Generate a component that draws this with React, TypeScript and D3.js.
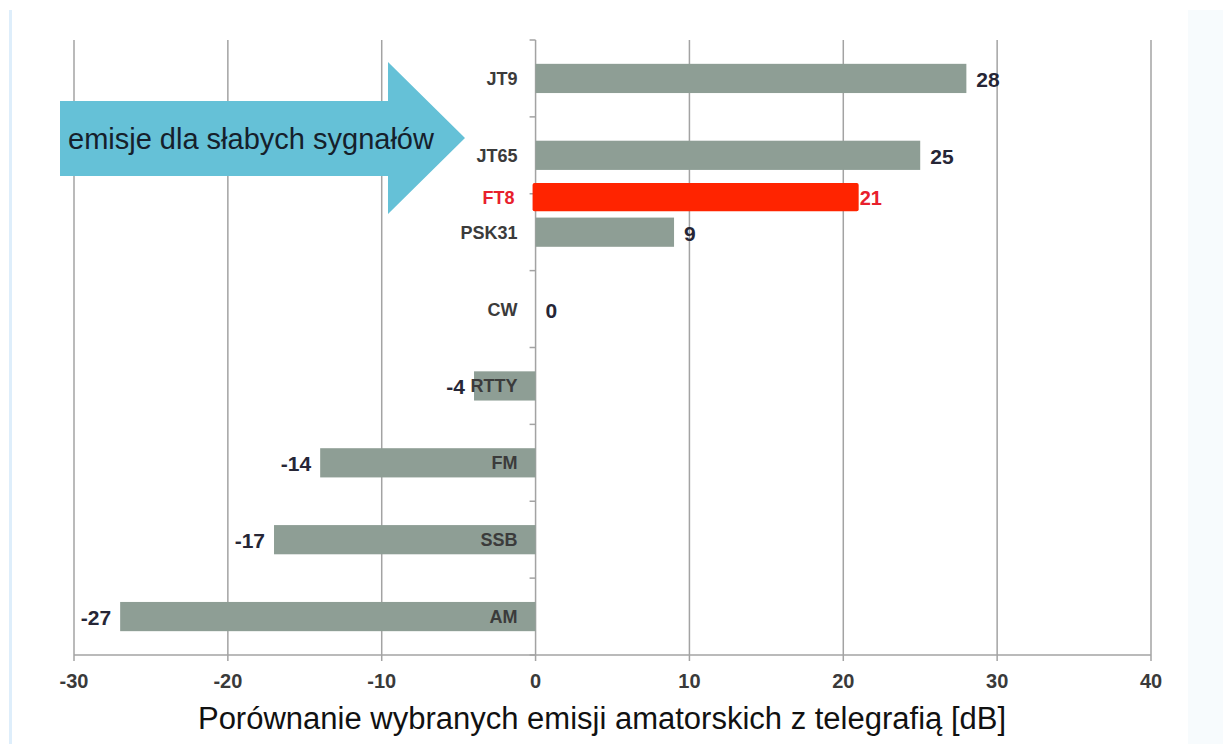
import { useEffect, useRef } from 'react';
import * as d3 from 'd3';

// emisje (od góry) i ich przewaga nad CW w dB
const categories: string[] = ['JT9', 'JT65', 'PSK31', 'CW', 'RTTY', 'FM', 'SSB', 'AM'];
const values: number[] = [28, 25, 9, 0, -4, -14, -17, -27];
// wyróżniona emisja, wstawiona między JT65 i PSK31
const highlightName = 'FT8';
const highlightValue = 21;
const highlightAfter = 'JT65';
const xTicks: number[] = [-30, -20, -10, 0, 10, 20, 30, 40];
const arrowText = 'emisje dla słabych sygnałów';
const axisTitle = 'Porównanie wybranych emisji amatorskich z telegrafią [dB]';

const W = 1223;
const H = 744;

function App() {
	const ref = useRef<SVGSVGElement>(null);

	useEffect(() => {
		document.body.style.margin = '0';
		const svg = d3.select(ref.current);
		svg.selectAll('*').remove();

		const top = 40;
		const bottom = 655;
		const x = d3.scaleLinear().domain([-30, 40]).range([74, 1151]);
		const y = d3
			.scaleBand<string>()
			.domain(categories)
			.range([top, bottom])
			.paddingInner(0.62)
			.paddingOuter(0.31);
		const step = y.step();
		const bw = y.bandwidth();
		const grid = '#a3a3a3';
		const font = 'Liberation Sans, Arial, sans-serif';

		// tło slajdu
		svg.append('rect').attr('width', W).attr('height', H).attr('fill', '#ffffff');
		svg.append('rect').attr('x', 9).attr('y', 10).attr('width', 3).attr('height', H - 10).attr('fill', '#deeefb');
		svg.append('rect').attr('x', 1188).attr('y', 10).attr('width', W - 1188).attr('height', H - 10).attr('fill', '#f7fbfd');

		// linie siatki
		svg.append('g')
			.selectAll('line')
			.data(xTicks)
			.enter()
			.append('line')
			.attr('x1', (d) => x(d))
			.attr('x2', (d) => x(d))
			.attr('y1', top)
			.attr('y2', bottom + 6)
			.attr('stroke', grid)
			.attr('stroke-width', 1.5);

		svg.append('line')
			.attr('x1', x(-30))
			.attr('x2', x(40))
			.attr('y1', bottom)
			.attr('y2', bottom)
			.attr('stroke', grid)
			.attr('stroke-width', 1.5);

		// znaczniki kategorii na osi zero
		const bounds = d3.range(categories.length + 1).map((i) => top + i * step);
		svg.append('g')
			.selectAll('line')
			.data(bounds)
			.enter()
			.append('line')
			.attr('x1', x(0) - 6)
			.attr('x2', x(0))
			.attr('y1', (d) => d)
			.attr('y2', (d) => d)
			.attr('stroke', grid)
			.attr('stroke-width', 1.5);

		// strzałka
		const arrow = d3.path();
		arrow.moveTo(60, 101);
		arrow.lineTo(388, 101);
		arrow.lineTo(388, 62);
		arrow.lineTo(465, 138);
		arrow.lineTo(388, 214);
		arrow.lineTo(388, 176);
		arrow.lineTo(60, 176);
		arrow.closePath();
		svg.append('path').attr('d', arrow.toString()).attr('fill', '#65c1d7');
		svg.append('text')
			.attr('x', 68)
			.attr('y', 149)
			.attr('font-family', font)
			.attr('font-size', 29)
			.attr('fill', '#15202b')
			.text(arrowText);

		const rows = categories.map((c, i) => ({ name: c, value: values[i] }));

		// słupki
		svg.append('g')
			.selectAll('rect')
			.data(rows)
			.enter()
			.append('rect')
			.attr('x', (d) => Math.min(x(0), x(d.value)))
			.attr('width', (d) => Math.abs(x(d.value) - x(0)))
			.attr('y', (d) => y(d.name)!)
			.attr('height', bw)
			.attr('fill', '#8e9e95');

		// FT8
		const hy = y(highlightAfter)! + bw + (step - bw) / 2 - bw / 2 + step * 0.05;
		svg.append('rect')
			.attr('x', x(0) - 3)
			.attr('width', x(highlightValue) - x(0) + 3)
			.attr('y', hy)
			.attr('height', bw - 1)
			.attr('rx', 2)
			.attr('fill', '#ff2400');

		// etykiety kategorii
		svg.append('g')
			.selectAll('text')
			.data(rows)
			.enter()
			.append('text')
			.attr('x', x(0) - 18)
			.attr('y', (d) => y(d.name)! + bw / 2)
			.attr('dy', '0.36em')
			.attr('text-anchor', 'end')
			.attr('font-family', font)
			.attr('font-weight', 'bold')
			.attr('font-size', 18)
			.attr('fill', '#3b3b3b')
			.text((d) => d.name);

		svg.append('text')
			.attr('x', x(0) - 21)
			.attr('y', hy + bw / 2)
			.attr('dy', '0.36em')
			.attr('text-anchor', 'end')
			.attr('font-family', font)
			.attr('font-weight', 'bold')
			.attr('font-size', 18)
			.attr('fill', '#e8202c')
			.text(highlightName);

		// wartości
		svg.append('g')
			.selectAll('text')
			.data(rows)
			.enter()
			.append('text')
			.attr('x', (d) => (d.value < 0 ? x(d.value) - 9 : x(d.value) + 10))
			.attr('y', (d) => y(d.name)! + bw / 2 + 1)
			.attr('dy', '0.36em')
			.attr('text-anchor', (d) => (d.value < 0 ? 'end' : 'start'))
			.attr('font-family', font)
			.attr('font-weight', 'bold')
			.attr('font-size', 21)
			.attr('fill', '#262636')
			.text((d) => String(d.value));

		svg.append('text')
			.attr('x', x(highlightValue) + 1)
			.attr('y', hy + bw / 2)
			.attr('dy', '0.36em')
			.attr('font-family', font)
			.attr('font-weight', 'bold')
			.attr('font-size', 20)
			.attr('fill', '#e8202c')
			.text(String(highlightValue));

		// opisy osi X
		svg.append('g')
			.selectAll('text')
			.data(xTicks)
			.enter()
			.append('text')
			.attr('x', (d) => x(d))
			.attr('y', 688)
			.attr('text-anchor', 'middle')
			.attr('font-family', font)
			.attr('font-weight', 'bold')
			.attr('font-size', 20)
			.attr('fill', '#3a3a3a')
			.text((d) => String(d));

		svg.append('text')
			.attr('x', 602)
			.attr('y', 729)
			.attr('text-anchor', 'middle')
			.attr('font-family', font)
			.attr('font-size', 31)
			.attr('fill', '#111111')
			.text(axisTitle);
	}, []);

	return <svg ref={ref} width={W} height={H} style={{ display: 'block' }} />;
}

export default App;
